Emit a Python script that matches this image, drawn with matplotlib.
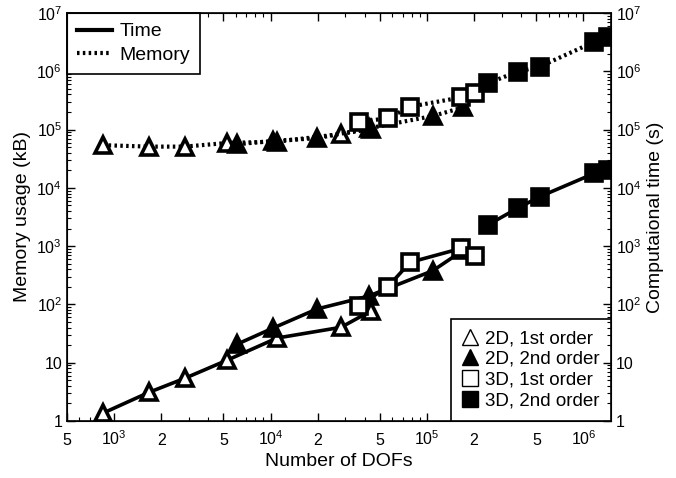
import matplotlib
matplotlib.use("Agg")
import matplotlib.pyplot as plt
from matplotlib.lines import Line2D
from matplotlib.ticker import FixedLocator, FixedFormatter, LogLocator, NullFormatter

plt.rcParams['font.family'] = ['Liberation Sans', 'DejaVu Sans']
plt.rcParams['mathtext.fontset'] = 'custom'
plt.rcParams['mathtext.rm'] = 'Liberation Sans'
plt.rcParams['mathtext.it'] = 'Liberation Sans'

# ---- data ----
dofs_2d1 = [847, 1670, 2830, 5300, 11000, 28200, 43700]
time_2d1 = [1.36, 3.1, 5.4, 11.1, 26.5, 40.5, 77]
mem_2d1 = [5.4e4, 5.1e4, 5.1e4, 5.9e4, 6.2e4, 8.4e4, 1.02e5]

dofs_2d2 = [6140, 10400, 19800, 42300, 109000, 171000]
time_2d2 = [20.9, 39.4, 83.5, 139, 379, 855]
mem_2d2 = [5.6e4, 6.4e4, 7.1e4, 1.05e5, 1.71e5, 2.41e5]

dofs_3d1 = [36500, 56200, 78000, 166000, 202000]
time_3d1 = [94, 201, 528, 918, 677]
mem_3d1 = [1.36e5, 1.56e5, 2.47e5, 3.57e5, 4.19e5]

dofs_3d2 = [244000, 379000, 525000, 1175000, 1430000]
time_3d2 = [2305, 4456, 7047, 17750, 20230]
mem_3d2 = [6.21e5, 9.84e5, 1.2e6, 3.2e6, 3.92e6]

x_tick_vals = [500, 1000, 2000, 5000, 10000, 20000, 50000, 100000, 200000, 500000, 1000000]
x_tick_labels = ['5', '$10^3$', '2', '5', '$10^4$', '2', '5', '$10^5$', '2', '5', '$10^6$']
y_tick_vals = [1, 10, 100, 1e3, 1e4, 1e5, 1e6, 1e7]
y_tick_labels = ['1', '10', '$10^2$', '$10^3$', '$10^4$', '$10^5$', '$10^6$', '$10^7$']

series = [
    (dofs_2d1, time_2d1, mem_2d1, '^', 'white', '2D, 1st order'),
    (dofs_2d2, time_2d2, mem_2d2, '^', 'black', '2D, 2nd order'),
    (dofs_3d1, time_3d1, mem_3d1, 's', 'white', '3D, 1st order'),
    (dofs_3d2, time_3d2, mem_3d2, 's', 'black', '3D, 2nd order'),
]

fig = plt.figure(figsize=(6.76, 4.78), dpi=100)
ax = fig.add_axes([67/676, 1 - 421/478, (611-67)/676, (421-13)/478])

for xs, ts, ms, mk, fc, lab in series:
    msz = 12 if mk == '^' else 11
    ax.plot(xs, ts, '-', color='black', lw=2.6, marker=mk, ms=msz,
            mfc=fc, mec='black', mew=2.6, zorder=3)
    ax.plot(xs, ms, color='black', lw=3.0, ls=(0, (0.6, 0.8)), marker=mk, ms=msz,
            mfc=fc, mec='black', mew=2.6, zorder=3)

ax.set_xscale('log')
ax.set_yscale('log')
ax.set_xlim(500, 1.5e6)
ax.set_ylim(1, 1e7)

ax.xaxis.set_major_locator(FixedLocator(x_tick_vals))
ax.xaxis.set_major_formatter(FixedFormatter(x_tick_labels))
ax.xaxis.set_minor_locator(LogLocator(base=10, subs=range(1, 10), numticks=20))
ax.xaxis.set_minor_formatter(NullFormatter())
ax.yaxis.set_major_locator(FixedLocator(y_tick_vals))
ax.yaxis.set_major_formatter(FixedFormatter(y_tick_labels))
ax.yaxis.set_minor_locator(LogLocator(base=10, subs=range(1, 10), numticks=20))
ax.yaxis.set_minor_formatter(NullFormatter())

ax.tick_params(which='both', direction='in', top=True, right=False, labelsize=11.5)
ax.tick_params(which='major', length=6, width=1)
ax.tick_params(which='minor', length=3, width=0.8)
ax.tick_params(axis='x', pad=17)
for lbl in ax.get_xticklabels():
    lbl.set_verticalalignment('baseline')

for sp in ax.spines.values():
    sp.set_linewidth(1.2)

ax.set_xlabel('Number of DOFs', fontsize=14, labelpad=4)
ax.set_ylabel('Memory usage (kB)', fontsize=14)

ax2 = ax.twinx()
ax2.set_yscale('log')
ax2.set_ylim(1, 1e7)
ax2.yaxis.set_major_locator(FixedLocator(y_tick_vals))
ax2.yaxis.set_major_formatter(FixedFormatter(y_tick_labels))
ax2.yaxis.set_minor_locator(LogLocator(base=10, subs=range(1, 10), numticks=20))
ax2.yaxis.set_minor_formatter(NullFormatter())
ax2.tick_params(which='both', direction='in', labelsize=11.5)
ax2.tick_params(which='major', length=6, width=1)
ax2.tick_params(which='minor', length=3, width=0.8)
ax2.set_ylabel('Computaional time (s)', fontsize=14)

# Legend 1: line styles
h1 = [Line2D([], [], color='black', lw=3.0, ls='-'),
      Line2D([], [], color='black', lw=3.0, ls=(0, (0.6, 0.8)))]
leg1 = ax.legend(h1, ['Time', 'Memory'], loc='upper left', fontsize=14,
                 borderaxespad=0, fancybox=False, framealpha=1, edgecolor='black',
                 handlelength=1.8, handletextpad=0.4, borderpad=0.5, labelspacing=0.3)
leg1.get_frame().set_linewidth(1.2)
ax.add_artist(leg1)

# Legend 2: markers
h2 = [Line2D([], [], ls='none', marker=mk, ms=11, mfc=fc, mec='black', mew=1.0)
      for _, _, _, mk, fc, _ in series]
leg2 = ax.legend(h2, [s[5] for s in series], loc='lower right', fontsize=13.5,
                 borderaxespad=0, fancybox=False, framealpha=1, edgecolor='black',
                 handlelength=0.8, handletextpad=0.4, borderpad=0.6, labelspacing=0.2)
leg2.get_frame().set_linewidth(1.2)

fig.savefig('out.png', dpi=100)
